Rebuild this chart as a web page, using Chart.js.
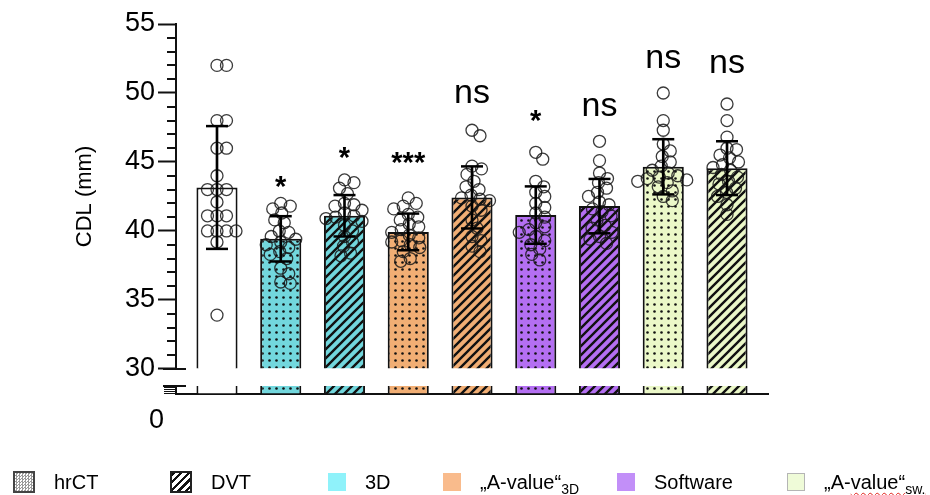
<!DOCTYPE html>
<html>
<head>
<meta charset="utf-8">
<script src="https://cdn.jsdelivr.net/npm/chart.js@4.4.1/dist/chart.umd.min.js"></script>
<style>
  html, body { margin: 0; padding: 0; background: #fff; }
  #wrap { position: relative; width: 930px; height: 495px; overflow: hidden; }
  #chart { position: absolute; left: 0; top: 0; }
  .leg { position: absolute; top: 471px; height: 22px; display: flex; align-items: center;
         font: 20px "Liberation Sans", Arial, Helvetica, sans-serif; color: #000; white-space: nowrap; }
  .sw { display: inline-block; box-sizing: border-box; margin-right: 19px; flex: none; }
  .sub { font-size: 14px; position: relative; top: 5px; }
  .wavy { text-decoration: underline wavy #e0201a; text-decoration-thickness: 1px; text-underline-offset: 3px; }
</style>
</head>
<body>
<div id="wrap">
  <canvas id="chart" width="930" height="495"></canvas>
  <div id="legend"></div>
</div>
<script>
// ---- data ----
const categories = ['Reference', '3D hrCT', '3D DVT', 'A-value 3D hrCT', 'A-value 3D DVT',
                    'Software hrCT', 'Software DVT', 'A-value sw hrCT', 'A-value sw DVT'];
const means = [43.15, 39.43, 41.1, 39.93, 42.43, 41.15, 41.8, 44.65, 44.55];
const sds   = [4.45, 1.64, 1.5, 1.33, 2.25, 2.08, 1.97, 2.0, 1.95];

const ptsReference = [52.0, 52.0, 48.0, 48.0, 46.0, 46.0, 44.0, 43.0, 43.0, 43.0, 42.1, 41.1, 41.1, 41.1, 40.0, 40.0, 40.0, 40.0, 39.2, 33.9];
const pts3dHrct    = [42.0, 41.8, 41.6, 41.3, 40.8, 40.6, 40.0, 39.9, 39.6, 39.4, 39.2, 39.0, 38.8, 38.5, 38.3, 38.0, 37.3, 36.9, 36.3, 36.2];
const pts3dDvt     = [43.7, 43.5, 43.1, 42.7, 42.0, 41.9, 41.8, 41.5, 41.3, 41.1, 41.0, 40.9, 40.7, 40.4, 40.0, 39.6, 39.2, 38.9, 38.4, 38.2];
const ptsA3dHrct   = [42.4, 42.0, 41.8, 41.6, 41.2, 41.0, 40.8, 40.5, 40.3, 40.1, 39.9, 39.7, 39.5, 39.3, 39.2, 39.0, 38.8, 38.5, 38.0, 37.8];
const ptsA3dDvt    = [47.3, 46.9, 44.7, 44.5, 44.1, 43.6, 43.2, 43.0, 42.6, 42.4, 42.3, 42.2, 41.8, 41.5, 40.8, 40.2, 39.6, 39.3, 38.9, 38.5];
const ptsSwHrct    = [45.7, 45.2, 43.6, 43.2, 42.8, 42.5, 42.0, 41.7, 41.3, 41.0, 40.6, 40.3, 40.1, 39.9, 39.6, 39.3, 39.0, 38.7, 38.3, 37.9];
const ptsSwDvt     = [46.5, 45.1, 44.2, 43.8, 43.5, 43.1, 42.8, 42.5, 42.1, 41.9, 41.6, 41.4, 41.1, 40.8, 40.4, 40.2, 39.9, 39.6, 39.4, 39.1];
const ptsAswHrct   = [50.0, 48.0, 47.3, 46.3, 45.8, 45.4, 45.0, 44.7, 44.4, 44.2, 44.0, 43.9, 43.8, 43.7, 43.6, 43.5, 43.2, 42.9, 42.5, 42.2];
const ptsAswDvt    = [49.2, 48.0, 46.8, 46.0, 45.9, 45.5, 45.3, 45.0, 44.8, 44.6, 44.4, 44.1, 43.9, 43.6, 43.4, 43.1, 42.8, 42.5, 41.9, 41.2];
const groupPoints = [ptsReference, pts3dHrct, pts3dDvt, ptsA3dHrct, ptsA3dDvt, ptsSwHrct, ptsSwDvt, ptsAswHrct, ptsAswDvt];

const significance = ['', '*', '*', '***', 'ns', '*', 'ns', 'ns', 'ns'];

const yTicksMajor = [30, 35, 40, 45, 50, 55];
const legendLabels = ['hrCT', 'DVT', '3D', '„A-value“', 'Software', '„A-value“'];
const legendSubs   = ['', '', '', '3D', '', 'sw.'];

// ---- styling ----
const FONT = '"Liberation Sans", Arial, Helvetica, sans-serif';
const INK = '#111';
const Y_MIN = yTicksMajor[0], Y_MAX = yTicksMajor[yTicksMajor.length - 1];
const LOW_MAX = 4;
const AXIS_W = 176;

const COL = { white: '#ffffff', cyan: '#72d7dd', orange: '#f1ae74', purple: '#b46ff2', lime: '#ebf8c8' };
const barLook = [
  [COL.white, null], [COL.cyan, 'dots'], [COL.cyan, 'hatch'], [COL.orange, 'dots'], [COL.orange, 'hatch'],
  [COL.purple, 'dots'], [COL.purple, 'hatch'], [COL.lime, 'dots'], [COL.lime, 'hatch']
];

const canvas = document.getElementById('chart');
const mainCtx = canvas.getContext('2d');

function makeFill(color, kind) {
  if (!kind) return color;
  const c = document.createElement('canvas');
  const g = c.getContext('2d');
  if (kind === 'dots') {
    c.width = 7; c.height = 7;
    g.fillStyle = color; g.fillRect(0, 0, 7, 7);
    g.fillStyle = '#111';
    g.beginPath(); g.arc(3.5, 3.5, 1.3, 0, Math.PI * 2); g.fill();
  } else {
    const T = 9;
    c.width = T; c.height = T;
    g.fillStyle = color; g.fillRect(0, 0, T, T);
    g.strokeStyle = '#111'; g.lineWidth = 2.4; g.lineCap = 'square';
    g.beginPath();
    g.moveTo(-2, T + 2); g.lineTo(T + 2, -2);
    g.moveTo(-2, 2); g.lineTo(2, -2);
    g.moveTo(T - 2, T + 2); g.lineTo(T + 2, T - 2);
    g.stroke();
  }
  return mainCtx.createPattern(c, 'repeat');
}
const barFills = barLook.map(([c, k]) => makeFill(c, k));

// minor ticks on the value axis, break caps and significance marks
const decorPlugin = {
  id: 'decor',
  afterDraw(chart, args, opts) {
    const { ctx, scales } = chart;
    const y = scales.y, yLow = scales.yLow, x = scales.x;
    const ax = y.right;
    ctx.save();
    ctx.strokeStyle = INK;
    ctx.lineWidth = 2;
    ctx.beginPath();
    for (let v = Y_MIN + 1; v < Y_MAX; v++) {
      if (v % 5 === 0) continue;
      const py = Math.round(y.getPixelForValue(v));
      ctx.moveTo(ax - 9, py); ctx.lineTo(ax, py);
    }
    const pBreak = y.getPixelForValue(Y_MIN);
    const pLow = yLow.getPixelForValue(LOW_MAX);
    ctx.moveTo(ax - 13, pBreak); ctx.lineTo(ax + 10, pBreak);
    ctx.moveTo(ax - 13, pLow); ctx.lineTo(ax + 10, pLow);
    ctx.stroke();

    // significance marks, ink centred on the given value
    ctx.fillStyle = '#000';
    ctx.textAlign = 'center';
    ctx.textBaseline = 'alphabetic';
    significance.forEach((s, i) => {
      if (!s) return;
      ctx.font = (s === 'ns' ? '34px ' : 'bold 29px ') + FONT;
      const m = ctx.measureText(s);
      const cy = y.getPixelForValue(opts.at[i]);
      const base = cy + (m.actualBoundingBoxAscent - m.actualBoundingBoxDescent) / 2;
      ctx.fillText(s, x.getPixelForValue(i), base);
    });
    ctx.restore();
  }
};

const fixWidth = (s) => { s.width = AXIS_W; };

const chart = new Chart(canvas, {
  type: 'bar',
  data: {
    datasets: [
      { // error bar stems
        type: 'bar', yAxisID: 'y', order: 1, grouped: false,
        data: means.map((m, i) => ({ x: i, y: [m - sds[i], m + sds[i]] })),
        backgroundColor: '#000', borderWidth: 0, barThickness: 2
      },
      { // error bar caps
        type: 'scatter', yAxisID: 'y', order: 0,
        data: means.flatMap((m, i) => [{ x: i, y: m + sds[i] }, { x: i, y: m - sds[i] }]),
        pointStyle: 'line', pointRadius: 11, borderColor: '#000', borderWidth: 2.5
      },
      { // individual measurements
        type: 'scatter', yAxisID: 'y', order: 2,
        data: groupPoints.flatMap((arr, i) => arr.map(v => ({ x: i, y: v }))),
        pointStyle: 'circle', pointRadius: 6, borderWidth: 1.3,
        borderColor: 'rgba(25,25,25,0.85)', backgroundColor: 'rgba(0,0,0,0)'
      },
      { // mean bars
        type: 'bar', yAxisID: 'y', order: 4, grouped: false, base: Y_MIN,
        data: means.map((m, i) => ({ x: i, y: m })),
        backgroundColor: barFills, borderColor: INK, borderWidth: 2,
        barPercentage: 0.645, categoryPercentage: 1
      },
      { // bars below the axis break
        type: 'bar', yAxisID: 'yLow', order: 5, grouped: false,
        data: means.map((m, i) => ({ x: i, y: Math.min(m, LOW_MAX) })),
        backgroundColor: barFills, borderColor: INK,
        borderWidth: { left: 2, right: 2, top: 0, bottom: 0 }, borderSkipped: false,
        barPercentage: 0.645, categoryPercentage: 1
      }
    ]
  },
  options: {
    responsive: false,
    animation: false,
    events: [],
    layout: { padding: { left: 0, top: 24, right: 162, bottom: 101 } },
    plugins: {
      legend: { display: false },
      tooltip: { enabled: false },
      decor: { at: [null, 43.55, 45.63, 45.26, 49.91, 48.31, 49.0, 52.46, 52.09] }
    },
    scales: {
      x: {
        type: 'linear', min: -0.643, max: 8.643, offset: false,
        grid: { display: false, drawTicks: false, tickLength: 0 }, ticks: { display: false },
        border: { display: true, width: 2, color: INK }
      },
      yLow: {
        type: 'linear', position: 'left', stack: 'v', stackWeight: 8,
        min: 0, max: LOW_MAX, afterFit: fixWidth,
        ticks: { stepSize: 1, autoSkip: false, padding: 0, labelOffset: 27, color: '#000',
                 font: { family: FONT, size: 27 }, callback: v => (v === 0 ? '0' : '') },
        grid: { display: true, drawOnChartArea: false, drawTicks: true, tickLength: 12, tickWidth: 1, tickColor: INK },
        border: { display: true, width: 2, color: INK }
      },
      yGap: {
        type: 'linear', position: 'left', stack: 'v', stackWeight: 17,
        min: 0, max: 1, afterFit: fixWidth,
        ticks: { display: false }, grid: { display: false }, border: { display: false }
      },
      y: {
        type: 'linear', position: 'left', stack: 'v', stackWeight: 344,
        min: Y_MIN, max: Y_MAX, afterFit: fixWidth,
        afterBuildTicks: (s) => { s.ticks = yTicksMajor.map(v => ({ value: v })); },
        ticks: { autoSkip: false, padding: 3, color: '#000', font: { family: FONT, size: 27 } },
        grid: { display: true, drawOnChartArea: false, drawTicks: true, tickLength: 18, tickWidth: 2, tickColor: INK },
        border: { display: true, width: 2, color: INK },
        title: { display: true, text: 'CDL (mm)', color: '#000', font: { family: FONT, size: 22 },
                 padding: { top: 72, bottom: 0 } }
      }
    }
  },
  plugins: [decorPlugin]
});

// spread the points of each group sideways so the circles do not pile up
(function swarm() {
  const y = chart.scales.y, x = chart.scales.x;
  const pxPerUnit = x.getPixelForValue(1) - x.getPixelForValue(0);
  const minDist = 9.5;
  const out = [];
  groupPoints.forEach((vals, gi) => {
    const placed = [];
    const order = vals.map((v, i) => i).sort((a, b) => vals[b] - vals[a]);
    const offs = new Array(vals.length).fill(0);
    for (const i of order) {
      const py = y.getPixelForValue(vals[i]);
      let chosen = 0;
      for (let k = 0; k < 400; k++) {
        const cand = (k % 2 ? 1 : -1) * Math.ceil(k / 2) * 0.5;
        if (placed.every(p => (p.x - cand) ** 2 + (p.y - py) ** 2 >= minDist * minDist)) { chosen = cand; break; }
      }
      placed.push({ x: chosen, y: py });
      offs[i] = chosen / pxPerUnit;
    }
    vals.forEach((v, i) => out.push({ x: gi + offs[i], y: v }));
  });
  chart.data.datasets[2].data = out;
  chart.update('none');
})();

// legend
const legendEl = document.getElementById('legend');
const LEG_X = [13, 170, 328, 443, 617, 787];
const swatchCss = [
  'width:22px;height:22px;border:2px solid #444;background-color:#fff;background-image:repeating-conic-gradient(#9a9a9a 0 25%, #fff 0 50%);background-size:3px 3px;',
  'width:22px;height:22px;border:2px solid #222;background:repeating-linear-gradient(135deg, #111 0 2.2px, #fff 2.2px 5.4px);',
  'width:18px;height:18px;background:#8ff2fa;',
  'width:18px;height:18px;background:#f9bb8c;',
  'width:18px;height:18px;background:#c28ff8;',
  'width:18px;height:18px;background:#effbd8;border:1px solid #b5b5b5;'
];
legendLabels.forEach((label, i) => {
  const item = document.createElement('div');
  item.className = 'leg';
  item.style.left = LEG_X[i] + 'px';
  const sw = document.createElement('span');
  sw.className = 'sw';
  sw.style.cssText = swatchCss[i];
  item.appendChild(sw);
  const txt = document.createElement('span');
  const sub = legendSubs[i] ? '<span class="sub">' + legendSubs[i] + '</span>' : '';
  if (i === legendLabels.length - 1) {
    const cut = label.indexOf('value');
    txt.innerHTML = label.slice(0, cut) + '<span class="wavy">' + label.slice(cut) + sub + '</span>';
  } else {
    txt.innerHTML = label + sub;
  }
  item.appendChild(txt);
  legendEl.appendChild(item);
});
</script>
</body>
</html>
